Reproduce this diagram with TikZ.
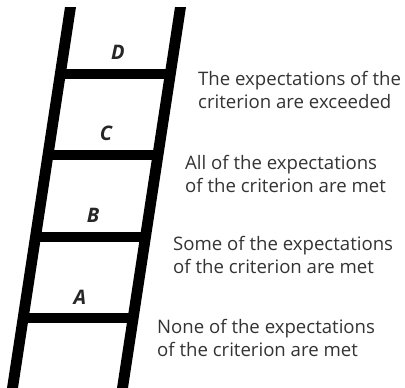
\documentclass[tikz,border=0pt]{standalone}
\usepackage{fontspec}
\setmainfont{Open Sans}
\begin{document}
\begin{tikzpicture}[x=1pt,y=-1pt,
  rail/.style={fill=black,draw=none},
  rung/.style={fill=black,draw=none},
  grade/.style={font=\fontsize{20}{24}\selectfont\bfseries\itshape,text=black!85,inner sep=0pt},
  desc/.style={font=\fontsize{18.6}{23}\selectfont,text=black!80,align=left,anchor=west,inner sep=0pt}]
\useasboundingbox (0,0) rectangle (405,388);

% rails
\fill[rail] (65,7) -- (76,7) -- (18,388) -- (7,388) -- cycle;
\fill[rail] (175,7) -- (186,7) -- (128,388) -- (117,388) -- cycle;

% rungs
\foreach \y in {73.5,155,236.5,318}{
  \fill[rung] ({71-0.152*(\y-7)},\y-5) rectangle ({180.5-0.152*(\y-7)},\y+5);
}

% grade letters
\node[grade] (D) at (118,52) {D};
\node[grade] (C) at (106,133) {C};
\node[grade] (B) at (93,215) {B};
\node[grade] (A) at (80,297) {A};

% descriptions
\node[desc] (dD) at (198,89.5) {The expectations of the\\criterion are exceeded};
\node[desc] (dC) at (185,173.5) {All of the expectations\\of the criterion are met};
\node[desc] (dB) at (173,254.5) {Some of the expectations\\of the criterion are met};
\node[desc] (dA) at (157,337.5) {None of the expectations\\of the criterion are met};
\end{tikzpicture}
\end{document}
